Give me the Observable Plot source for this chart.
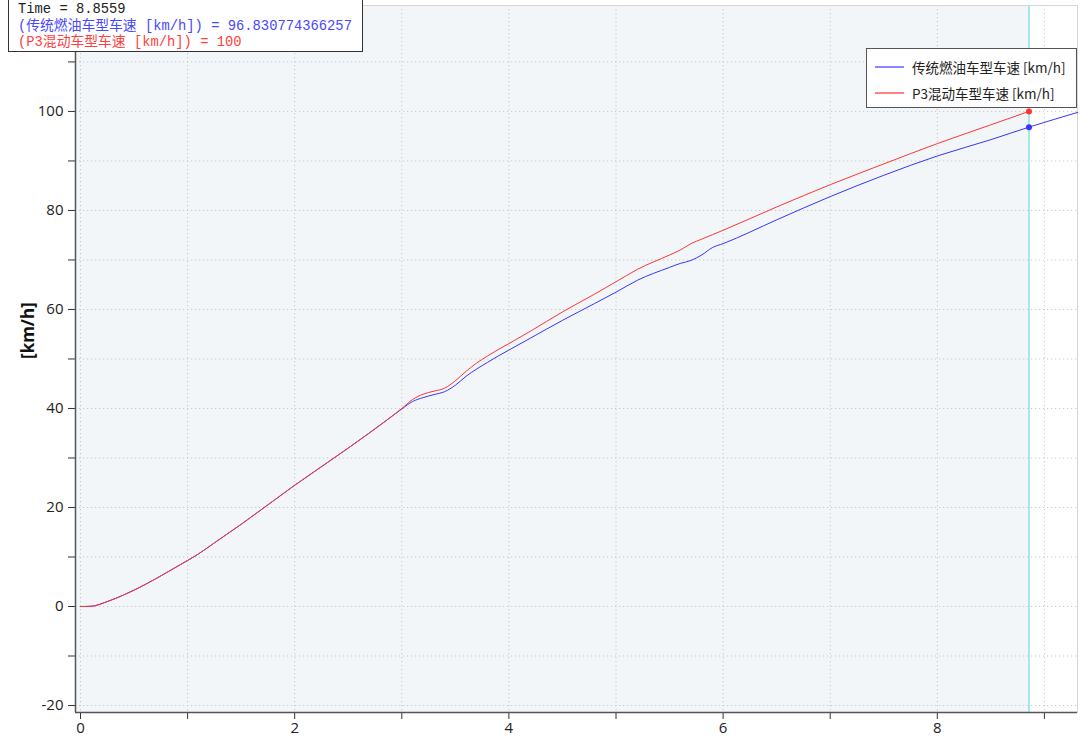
<!DOCTYPE html>
<html>
<head>
<meta charset="utf-8">
<script src="https://cdn.jsdelivr.net/npm/d3@7"></script>
<script src="https://cdn.jsdelivr.net/npm/@observablehq/plot@0.6"></script>
<style>
  body { margin: 0; background: #fff; }
  #wrap { position: relative; width: 1080px; height: 743px; overflow: hidden; }
  #readout {
    position: absolute; left: 8px; top: -1px; width: 355px; height: 53px;
    box-sizing: border-box; border: 1px solid #333; background: #fff;
    font-family: "Liberation Mono", "Noto Sans CJK SC", monospace; font-size: 13.8px;
    line-height: 16.5px; padding-left: 9px; padding-top: 2px; white-space: pre;
  }
  #legend {
    position: absolute; left: 866px; top: 48px; width: 211px; height: 60px;
    box-sizing: border-box; border: 1px solid #555; background: #fff;
    font-family: "Noto Sans CJK SC", "Noto Sans", sans-serif; font-size: 13.5px; color: #222;
  }
  .lg { position: absolute; left: 8px; display: flex; align-items: center; white-space: nowrap; }
  .lg svg { margin-right: 8px; }
</style>
</head>
<body>
<div id="wrap">
  <div id="chart"></div>
  <div id="readout"></div>
  <div id="legend"></div>
</div>
<script>
// ---- data ----
const seriesNames = ["传统燃油车型车速 [km/h]", "P3混动车型车速 [km/h]"];
const seriesColors = ["#3535ff", "#ff3535"];
const legendColors = ["#4848ff", "#ff4040"];
const timeConv = [0, 0.1, 0.25, 0.4, 0.6, 0.8, 1.0, 1.1, 1.25, 1.5, 2.0, 2.5, 2.9, 3.0, 3.1, 3.2, 3.3, 3.4, 3.5, 3.6, 3.7, 3.8, 3.9, 4.0, 4.2, 4.5, 4.8, 5.0, 5.2, 5.5, 5.6, 5.7, 5.8, 5.9, 6.0, 6.5, 7.0, 7.5, 8.0, 8.5, 8.8559, 9.31];
const speedConv = [0, 0.05, 1.0, 2.3, 4.4, 6.8, 9.3, 10.6, 12.85, 16.6, 24.5, 32.0, 38.3, 39.9, 41.4, 42.2, 42.8, 43.4, 44.7, 46.5, 48.0, 49.3, 50.6, 51.8, 54.2, 57.8, 61.2, 63.5, 65.9, 68.5, 69.3, 69.9, 71.0, 72.5, 73.3, 78.1, 82.8, 87.1, 91.0, 94.3, 96.830774366257, 99.8];
const timeP3 = [0, 0.1, 0.25, 0.4, 0.6, 0.8, 1.0, 1.1, 1.25, 1.5, 2.0, 2.5, 2.9, 3.0, 3.1, 3.2, 3.3, 3.4, 3.5, 3.6, 3.7, 3.8, 3.9, 4.0, 4.2, 4.5, 4.8, 5.0, 5.2, 5.5, 5.6, 5.7, 5.8, 5.9, 6.0, 6.5, 7.0, 7.5, 8.0, 8.5, 8.8559];
const speedP3 = [0, 0.05, 1.0, 2.3, 4.4, 6.8, 9.3, 10.6, 12.85, 16.6, 24.5, 32.0, 38.3, 40.0, 41.8, 42.9, 43.5, 44.1, 45.6, 47.5, 49.2, 50.6, 51.9, 53.1, 55.6, 59.5, 63.1, 65.6, 68.1, 71.0, 72.0, 73.3, 74.2, 75.1, 76.0, 80.7, 85.2, 89.4, 93.5, 97.3, 100];
const cursorTime = 8.8559;
const cursorValues = [96.830774366257, 100];
const readoutTexts = ["(传统燃油车型车速 [km/h]) = 96.830774366257", "(P3混动车型车速 [km/h]) = 100"];
const xDomain = [-0.0467, 9.309];
const yDomain = [-21.41, 121.4];
const xTicks = [0, 1, 2, 3, 4, 5, 6, 7, 8, 9];
const yTicks = [-20, -10, 0, 10, 20, 30, 40, 50, 60, 70, 80, 90, 100, 110];
const yLabel = "[km/h]";

// ---- build tables ----
const conv = timeConv.map((t, i) => ({t, v: speedConv[i]}));
const p3 = timeP3.map((t, i) => ({t, v: speedP3[i]}));
const cursorDots = cursorValues.map((v, i) => ({t: cursorTime, v, c: seriesColors[i]}));
const shade = [{x1: xDomain[0], x2: cursorTime, y1: yDomain[0], y2: yDomain[1]}];

const chart = Plot.plot({
  width: 1080, height: 743,
  marginLeft: 75, marginRight: 3, marginTop: 5, marginBottom: 31,
  x: {domain: xDomain},
  y: {domain: yDomain},
  style: {fontFamily: "'Open Sans', 'Noto Sans', sans-serif", fontSize: "15px", color: "#222", background: "#fff"},
  marks: [
    Plot.rect(shade, {x1: "x1", x2: "x2", y1: "y1", y2: "y2", fill: "#f2f6f9"}),
    Plot.gridX(xTicks, {stroke: "#c4c8cc", strokeOpacity: 1, strokeDasharray: "1.2,2.8"}),
    Plot.gridY(yTicks, {stroke: "#c4c8cc", strokeOpacity: 1, strokeDasharray: "1.2,2.8"}),
    Plot.frame({stroke: "#d6d6d6"}),
    Plot.ruleX([cursorTime], {stroke: "#a6e8e6", strokeWidth: 2}),
    Plot.line(conv, {x: "t", y: "v", stroke: seriesColors[0], strokeWidth: 1, curve: "monotone-x"}),
    Plot.line(p3, {x: "t", y: "v", stroke: seriesColors[1], strokeWidth: 1, curve: "monotone-x"}),
    Plot.dot(cursorDots, {x: "t", y: "v", fill: "c", r: 3, stroke: "none"}),
    Plot.axisX(xTicks, {tickSize: 7, tickPadding: 3, stroke: "#333", tickFormat: d => d % 2 === 0 ? String(d) : "", fontSize: 15, label: null}),
    Plot.axisY(yTicks, {tickSize: 7, tickPadding: 5, stroke: "#333", tickFormat: d => d % 20 === 0 ? String(d) : "", fontSize: 15, label: null}),
    Plot.ruleY([yDomain[0]], {stroke: "#555", strokeWidth: 1.5}),
    Plot.ruleX([xDomain[0]], {stroke: "#555", strokeWidth: 1.5}),
    Plot.text([yLabel], {frameAnchor: "left", dx: -47, rotate: -90, fontWeight: "bold", fontSize: 17, fill: "#111"})
  ]
});
document.getElementById("chart").appendChild(chart);

// readout box
const ro = document.getElementById("readout");
const l0 = document.createElement("div"); l0.textContent = "Time = " + cursorTime; l0.style.color = "#222"; ro.appendChild(l0);
readoutTexts.forEach((s, i) => {
  const d = document.createElement("div"); d.textContent = s; d.style.color = legendColors[i]; ro.appendChild(d);
});

// legend
const lg = document.getElementById("legend");
seriesNames.forEach((n, i) => {
  const row = document.createElement("div");
  row.className = "lg";
  row.style.top = (i === 0 ? 8 : 34) + "px";
  const ns = "http://www.w3.org/2000/svg";
  const sv = document.createElementNS(ns, "svg");
  sv.setAttribute("width", "29"); sv.setAttribute("height", "4");
  const ln = document.createElementNS(ns, "line");
  ln.setAttribute("x1", "0"); ln.setAttribute("x2", "29"); ln.setAttribute("y1", "2"); ln.setAttribute("y2", "2");
  ln.setAttribute("stroke", legendColors[i]); ln.setAttribute("stroke-width", "1.3");
  sv.appendChild(ln);
  const tx = document.createElement("span"); tx.textContent = n;
  row.appendChild(sv); row.appendChild(tx);
  lg.appendChild(row);
});
</script>
</body>
</html>
